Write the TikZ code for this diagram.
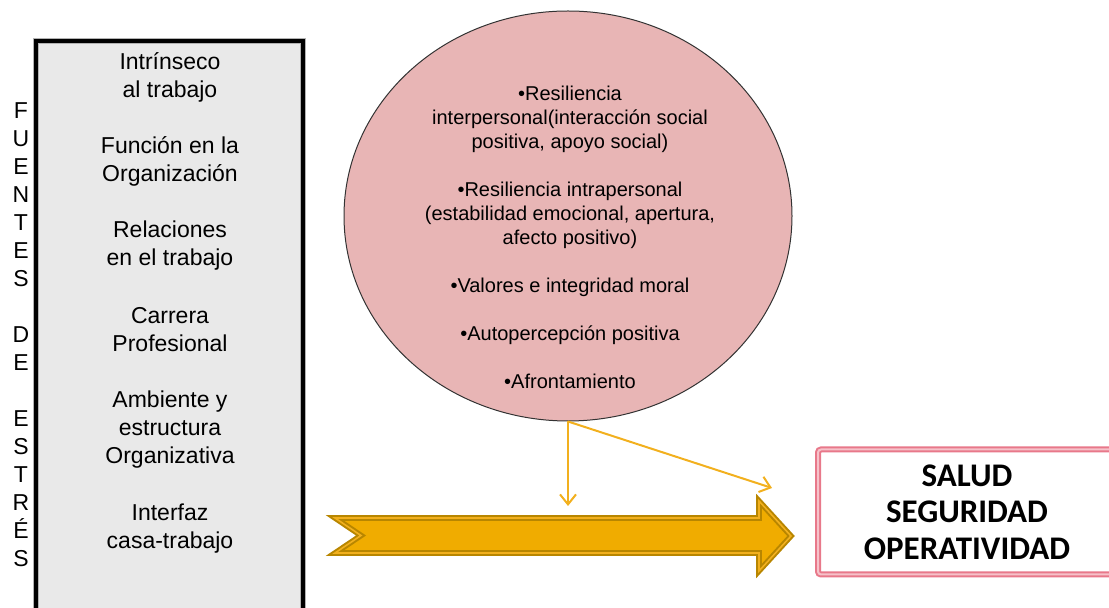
\documentclass[tikz,border=0pt]{standalone}
\usepackage{fontspec}
\setmainfont{Liberation Sans}
\newfontfamily\salidafont{Carlito}
\usepackage{tikz}
\usetikzlibrary{shapes.geometric,arrows.meta}
\definecolor{cajagris}{HTML}{E9E9E9}
\definecolor{rosaelipse}{HTML}{E8B5B5}
\definecolor{oro}{HTML}{F0AC00}
\definecolor{oroborde}{HTML}{B88600}
\definecolor{orolinea}{HTML}{F2B01E}
\definecolor{rosaborde}{HTML}{E8788A}
\definecolor{rosaclaro}{HTML}{F6C2CA}

\begin{document}
\begin{tikzpicture}[x=0.5pt,y=-0.5pt,
    factor/.style={align=center,font=\fontsize{11.5}{14}\selectfont,inner sep=0},
    rasgo/.style={align=center,font=\fontsize{10}{12}\selectfont,inner sep=0},
    flecha/.style={draw=orolinea,line width=1pt,-{Straight Barb[length=5pt,width=8pt]}}]
        \useasboundingbox (0,0) rectangle (1109,608);
        \clip (0,0) rectangle (1109,608);
        % fuentes de estres
        \draw[draw=gray!60,line width=3.4pt,fill=cajagris] (36,41) rectangle (303,660);
        \draw[draw=black,line width=2pt] (36,41) rectangle (303,660);
        \node[factor] (vert) at (21,335) {F\\U\\E\\N\\T\\E\\S\\[14pt]D\\E\\[14pt]E\\S\\T\\R\\É\\S};
        \node[factor] (f1) at (170,77) {Intrínseco\\al trabajo};
        \node[factor] (f2) at (170,161) {Función en la\\Organización};
        \node[factor] (f3) at (170,246) {Relaciones\\en el trabajo};
        \node[factor] (f4) at (170,330) {Carrera\\Profesional};
        \node[factor] (f5) at (170,430) {Ambiente y\\estructura\\Organizativa};
        \node[factor] (f6) at (170,529) {Interfaz\\casa-trabajo};
        % resiliencia
        \node[ellipse,draw=black!80,line width=0.5pt,fill=rosaelipse,minimum width=224pt,minimum height=205pt,inner sep=0] (elipse) at (568,216) {};
        \node[rasgo] (lista) at (570,237) {•Resiliencia\\interpersonal(interacción social\\positiva, apoyo social)\\[12pt]
            •Resiliencia intrapersonal\\(estabilidad emocional, apertura,\\afecto positivo)\\[12pt]
            •Valores e integridad moral\\[12pt]•Autopercepción positiva\\[12pt]•Afrontamiento};
        % salida
        \node[draw=rosaborde,double=rosaclaro,line width=1pt,double distance=1pt,rounded corners=1.5pt,
            minimum width=149pt,minimum height=62.5pt,align=center,
            font=\salidafont\bfseries\fontsize{16.5}{18.2}\selectfont] (salud) at (967,512) {SALUD\\SEGURIDAD\\OPERATIVIDAD};
        \draw[draw=oroborde,double=orolinea,line width=1pt,double distance=0.8pt,fill=oro,line join=miter]
            (335,518) -- (759,518) -- (759,501) -- (791,536) -- (759,571) -- (759,553) -- (335,553) -- (361,535.5) -- cycle;
        \coordinate (abajo) at (568,506);
        \coordinate (lado) at (772,488);
        \draw[flecha] (elipse.south) -- (abajo);
        \draw[flecha] (elipse.south) -- (lado);
      \end{tikzpicture}
\end{document}
